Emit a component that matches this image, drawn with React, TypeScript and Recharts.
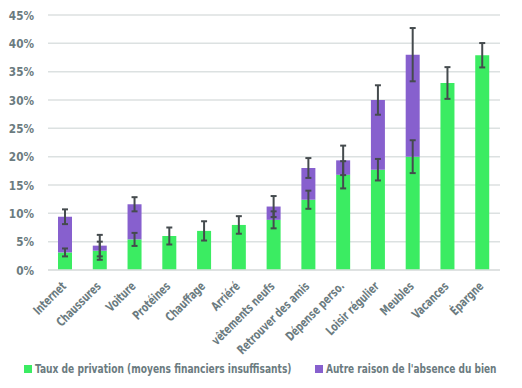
import React from 'react';
import { BarChart, Bar, XAxis, YAxis, CartesianGrid, ErrorBar, Legend } from 'recharts';

const categories = [
  'Internet', 'Chaussures', 'Voiture', 'Protéines', 'Chauffage', 'Arriéré',
  'vêtements neufs', 'Retrouver des amis', 'Dépense perso.', 'Loisir régulier',
  'Meubles', 'Vacances', 'Épargne',
];
const privation = [3.1, 3.4, 5.4, 6.0, 6.9, 7.95, 8.85, 12.4, 16.8, 17.7, 20.0, 33.0, 37.9];
const autreRaison = [6.3, 0.9, 6.2, 0, 0, 0, 2.35, 5.6, 2.55, 12.3, 18.0, 0, 0];
const privationErr = [0.7, 1.6, 1.15, 1.5, 1.7, 1.55, 1.5, 1.6, 2.4, 1.9, 2.9, 2.8, 2.15];
const autreErr: (number | null)[] = [1.3, 1.9, 1.25, null, null, null, 1.85, 1.75, 2.6, 2.6, 4.7, null, null];
const yTicks = [0, 5, 10, 15, 20, 25, 30, 35, 40, 45];

const seriesNames = ['Taux de privation (moyens financiers insuffisants)', "Autre raison de l'absence du bien"];
const GREEN = '#3BEC62';
const PURPLE = '#8760CE';
const TEXT = '#6B7B80';
const FONT = "'DejaVu Sans Condensed', 'DejaVu Sans', sans-serif";

const data = categories.map((c, i) => ({
  name: c,
  privation: privation[i],
  autre: autreRaison[i],
  privationErr: privationErr[i],
  autreErr: autreErr[i],
}));

const XTick = (props: any) => {
  const { x, y, payload } = props;
  const tx = x + 1.5;
  const ty = y + 17;
  return (
    <text
      x={0}
      y={0}
      transform={`translate(${tx}, ${ty}) rotate(-45) scale(0.78, 1)`}
      textAnchor="end"
      fill={TEXT}
      fontSize={12.5}
      fontWeight="bold"
      fontFamily={FONT}
    >
      {payload.value}
    </text>
  );
};

const YTick = (props: any) => {
  const { x, y, payload } = props;
  return (
    <text
      x={0}
      y={0}
      dy={4.5}
      transform={`translate(${x}, ${y}) scale(0.9, 1)`}
      textAnchor="end"
      fill={TEXT}
      fontSize={13}
      fontWeight="bold"
      fontFamily={FONT}
    >
      {`${payload.value}%`}
    </text>
  );
};

const LegendContent = () => (
  <svg width={522} height={20} style={{ display: 'block', overflow: 'visible' }}>
    <rect x={24} y={7} width={8} height={8} fill={GREEN} />
    <text
      x={0}
      y={0}
      transform="translate(35, 15) scale(0.78, 1)"
      fill={TEXT}
      fontSize={13}
      fontWeight="bold"
      fontFamily={FONT}
    >
      {seriesNames[0]}
    </text>
    <rect x={315} y={7} width={8} height={8} fill={PURPLE} />
    <text
      x={0}
      y={0}
      transform="translate(326, 15) scale(0.77, 1)"
      fill={TEXT}
      fontSize={13}
      fontWeight="bold"
      fontFamily={FONT}
    >
      {seriesNames[1]}
    </text>
  </svg>
);

export default function App() {
  return (
    <div style={{ position: 'absolute', left: 0, top: 0, background: '#fff' }}>
      <BarChart
        width={522}
        height={388}
        data={data}
        margin={{ top: 15, right: 22, left: 0, bottom: 10 }}
        barSize={14}
      >
        <CartesianGrid vertical={false} stroke="#DCE1E1" strokeWidth={1.5} />
        <XAxis
          dataKey="name"
          interval={0}
          height={88}
          tickLine={false}
          tickSize={0}
          tickMargin={0}
          axisLine={{ stroke: '#DCE1E1', strokeWidth: 1.5 }}
          tick={<XTick />}
        />
        <YAxis
          width={48}
          domain={[0, 45]}
          ticks={yTicks}
          axisLine={false}
          tickLine={false}
          tickSize={6}
          tickMargin={8}
          tick={<YTick />}
        />
        <Bar dataKey="privation" stackId="a" fill={GREEN} isAnimationActive={false} name={seriesNames[0]}>
          <ErrorBar dataKey="privationErr" width={3} stroke="#454B4E" strokeWidth={2} />
        </Bar>
        <Bar dataKey="autre" stackId="a" fill={PURPLE} isAnimationActive={false} name={seriesNames[1]}>
          <ErrorBar dataKey="autreErr" width={3} stroke="#454B4E" strokeWidth={2} />
        </Bar>
        <Legend
          verticalAlign="bottom"
          content={<LegendContent />}
          wrapperStyle={{ left: 0, bottom: 10, width: 522, height: 20 }}
        />
      </BarChart>
    </div>
  );
}
